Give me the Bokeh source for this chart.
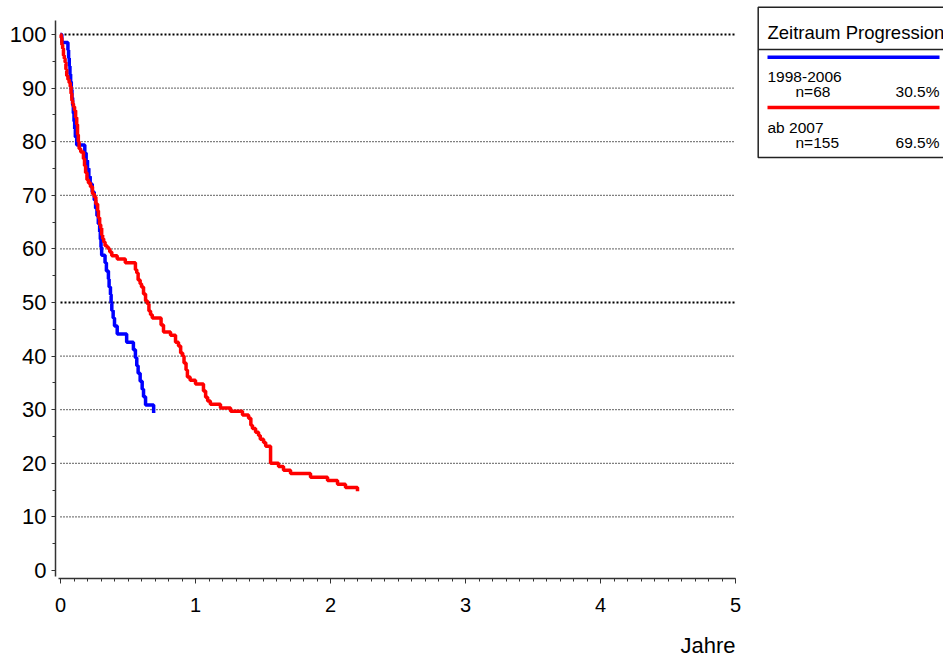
from bokeh.plotting import figure
from bokeh.models import Range1d, Label, FixedTicker, LinearAxis
from bokeh.embed import file_html
from bokeh.resources import INLINE

# ---- data (Kaplan-Meier style step curves) ----
blue_t = [0, 0.01, 0.055, 0.06, 0.065, 0.07, 0.075, 0.08, 0.085, 0.09, 0.095, 0.10, 0.105, 0.11, 0.12,
          0.18, 0.19, 0.20, 0.21, 0.22, 0.235, 0.25, 0.26, 0.27, 0.28, 0.29, 0.295, 0.30, 0.305, 0.33,
          0.34, 0.355, 0.36, 0.37, 0.375, 0.38, 0.39, 0.40, 0.42, 0.49, 0.54, 0.555, 0.565, 0.575,
          0.59, 0.605, 0.615, 0.63, 0.69]
blue_s = [100, 98.5, 97.1, 95.6, 94.1, 92.6, 91.2, 89.7, 88.2, 86.8, 85.3, 83.8, 82.4, 80.9, 79.4,
          77.9, 76.5, 75.0, 73.5, 72.1, 70.6, 69.1, 67.6, 66.2, 64.7, 63.2, 61.8, 60.3, 58.8, 57.4,
          55.9, 54.4, 52.9, 51.5, 50.0, 48.5, 47.1, 45.6, 44.1, 42.6, 41.2, 39.7, 38.2, 36.8,
          35.3, 33.8, 32.4, 30.9, 29.4]

red_t = [0, 0.005, 0.01, 0.016, 0.022, 0.028, 0.034, 0.04, 0.046, 0.055, 0.064, 0.072, 0.078, 0.084,
         0.09, 0.096, 0.104, 0.112, 0.12, 0.126, 0.132, 0.138, 0.15, 0.17, 0.178, 0.186, 0.196, 0.207,
         0.222, 0.237, 0.25, 0.262, 0.275, 0.281, 0.29, 0.298, 0.305, 0.312, 0.32, 0.33, 0.345, 0.356,
         0.365, 0.38, 0.42, 0.48, 0.555, 0.565, 0.575, 0.59, 0.60, 0.615, 0.63, 0.645, 0.655, 0.667,
         0.68, 0.745, 0.763, 0.815, 0.852, 0.874, 0.89, 0.905, 0.915, 0.93, 0.94, 0.96, 1.00, 1.059,
         1.075, 1.09, 1.11, 1.185, 1.26, 1.348, 1.393, 1.41, 1.422, 1.445, 1.467, 1.48, 1.504, 1.52,
         1.556, 1.615, 1.652, 1.704, 1.852, 1.978, 2.052, 2.111, 2.2]
red_s = [100, 99.4, 98.1, 97.4, 96.1, 95.5, 94.8, 93.5, 92.3, 91.6, 91.0, 90.3, 89.0, 87.7,
         87.1, 86.5, 85.8, 84.5, 83.2, 81.3, 80.0, 78.7, 78.1, 76.8, 75.5, 74.2, 72.9, 72.3,
         71.6, 70.3, 69.7, 68.4, 67.1, 65.8, 64.5, 63.9, 62.6, 61.9, 61.3, 60.6, 60.3, 60.0,
         59.4, 58.7, 58.1, 57.4, 56.1, 55.5, 54.2, 53.5, 52.9, 51.6, 50.3, 49.7, 48.4, 47.7,
         47.1, 45.8, 44.5, 43.9, 42.6, 41.9, 40.6, 40.0, 38.7, 37.4, 36.1, 35.5, 34.8, 33.5,
         32.3, 31.6, 31.0, 30.3, 29.7, 29.0, 28.4, 27.1, 26.5, 25.8, 25.2, 24.5, 23.9, 23.2,
         20.0, 19.4, 18.7, 18.1, 17.4, 16.8, 16.1, 15.5, 14.8]

x_ticks = [0, 1, 2, 3, 4, 5]
y_ticks = [0, 10, 20, 30, 40, 50, 60, 70, 80, 90, 100]
grid_thin = [10, 20, 30, 40, 60, 70, 80, 90]
grid_bold = [50, 100]
x_label = "Jahre"

legend_title = "Zeitraum Progression"
groups = ["1998-2006", "ab 2007"]
group_n = ["n=68", "n=155"]
group_pct = ["30.5%", "69.5%"]
group_colors = ["#0000ff", "#ff0000"]

FONT = "Liberation Sans"
AXC = "#333333"
W, H = 943, 657

# data -> pixel layout: t=0 at x=60, t=5 at x=735 ; S=100 at y=34, S=0 at y=570
X0, XS = 60.0, 135.0
Y0, YS = 570.0, 5.36
x_range = Range1d(-X0 / XS, (W - X0) / XS)
y_range = Range1d((Y0 - H) / YS, Y0 / YS)

p = figure(width=W, height=H, output_backend="svg", toolbar_location=None,
           x_range=x_range, y_range=y_range, x_axis_type=None, y_axis_type=None,
           min_border=0)
p.outline_line_color = None
p.background_fill_color = "white"
p.border_fill_color = "white"
p.extra_x_ranges = {"px": Range1d(0, W)}
p.extra_y_ranges = {"px": Range1d(H, 0)}

# grid lines (dotted)
p.segment(x0=[0] * len(grid_thin), y0=grid_thin, x1=[5] * len(grid_thin), y1=grid_thin,
          line_color="black", line_width=1.3, line_dash="1 2")
p.segment(x0=[0] * len(grid_bold), y0=grid_bold, x1=[5] * len(grid_bold), y1=grid_bold,
          line_color="black", line_width=2, line_dash="2 2")

p.step(blue_t, blue_s, mode="after", line_color=group_colors[0], line_width=3.5)
p.step(red_t, red_s, mode="after", line_color=group_colors[1], line_width=3.5)

# axes placed at fixed positions inside the canvas
xaxis = LinearAxis(fixed_location=-1.5, bounds=(-0.015, 5.0))
yaxis = LinearAxis(fixed_location=-0.037, bounds=(-1.2, 102.6))
xaxis.ticker = FixedTicker(ticks=x_ticks, minor_ticks=[i / 10 for i in range(0, 51)])
yaxis.ticker = FixedTicker(ticks=y_ticks, minor_ticks=list(range(0, 101, 5)))
for ax in (xaxis, yaxis):
    ax.axis_line_color = AXC
    ax.axis_line_width = 1.5
    ax.major_tick_line_color = AXC
    ax.minor_tick_line_color = AXC
    ax.major_tick_in = 0
    ax.minor_tick_in = 0
    ax.major_label_text_font = FONT
    ax.major_label_text_color = "black"
xaxis.major_tick_out = 5
xaxis.minor_tick_out = 3
yaxis.major_tick_out = 4
yaxis.minor_tick_out = 3
xaxis.major_label_text_font_size = "20px"
yaxis.major_label_text_font_size = "22px"
xaxis.major_label_standoff = 14
yaxis.major_label_standoff = 5
p.add_layout(xaxis, "below")
p.add_layout(yaxis, "left")

p.add_layout(Label(x=735, y=645, x_range_name="px", y_range_name="px", text=x_label,
                   text_align="right", text_baseline="middle", text_font=FONT,
                   text_font_size="22px", text_color="black"))

# ---- legend box (pixel coordinates) ----
BL, BT, BB, BR = 757.7, 6.7, 157, 960
p.line([BR, BL, BL, BR], [BT, BT, BB, BB], x_range_name="px", y_range_name="px",
       line_color="#222222", line_width=1.5)
p.line([BL, BR], [49, 49], x_range_name="px", y_range_name="px",
       line_color="#222222", line_width=1.5)
p.add_layout(Label(x=767, y=32, x_range_name="px", y_range_name="px", text=legend_title,
                   text_font=FONT, text_font_size="18.5px", text_baseline="alphabetic",
                   text_color="black"))
ys = [56.7, 107]
for i in range(2):
    y0 = ys[i]
    p.line([767, 939], [y0, y0], x_range_name="px", y_range_name="px",
           line_color=group_colors[i], line_width=3.5)
    p.add_layout(Label(x=767, y=y0 + 19.5, x_range_name="px", y_range_name="px", text=groups[i],
                       text_font=FONT, text_font_size="15.5px", text_baseline="alphabetic",
                       text_color="black"))
    p.add_layout(Label(x=795, y=y0 + 34.5, x_range_name="px", y_range_name="px", text=group_n[i],
                       text_font=FONT, text_font_size="15.5px", text_baseline="alphabetic",
                       text_color="black"))
    p.add_layout(Label(x=939, y=y0 + 34.5, x_range_name="px", y_range_name="px", text=group_pct[i],
                       text_font=FONT, text_font_size="15.5px", text_align="right",
                       text_baseline="alphabetic", text_color="black"))

open("out.html", "w").write(file_html(p, INLINE))
